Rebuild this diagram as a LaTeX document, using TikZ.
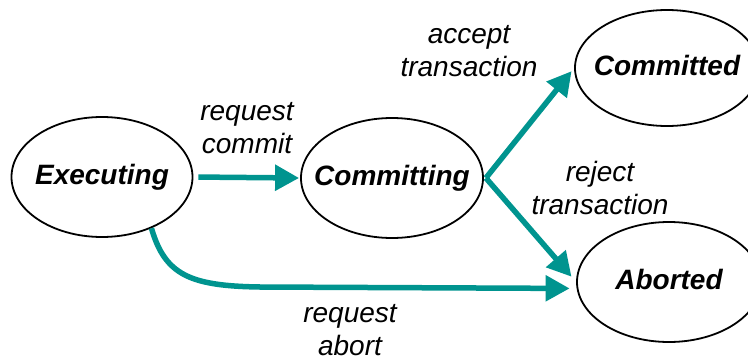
\documentclass[tikz,border=0pt]{standalone}
\usepackage{fontspec}
\setmainfont{Liberation Sans}
\usetikzlibrary{shapes.geometric,arrows.meta}
\definecolor{flowteal}{RGB}{0,148,143}
\tikzset{
  % the state name sits in a zero-width box so the ellipse keeps its given size
  state/.style={ellipse, draw=black, line width=1.8pt, inner sep=0pt,
    font=\fontsize{28}{33}\selectfont\bfseries\itshape,
    text height=20pt, text depth=6pt,
    execute at begin node={\hbox to 0pt\bgroup\hss},
    execute at end node={\hss\egroup}},
  trans/.style={draw=flowteal, line width=5.5pt,
    -{Triangle[length=24pt,width=25pt]}},
  lbl/.style={align=center, inner sep=0pt,
    font=\fontsize{28}{33}\selectfont\itshape}
}
\begin{document}
\begin{tikzpicture}[x=1pt,y=-1pt]
\useasboundingbox (0,0) rectangle (748,362);

% states
\node[state, minimum width=181pt, minimum height=120pt] (exec) at (102,177) {Executing};
\node[state, minimum width=182pt, minimum height=120pt] (cmting) at (392,178) {Committing};
\node[state, minimum width=184pt, minimum height=116pt] (cmted) at (667,68) {Committed};
\node[state, minimum width=184pt, minimum height=120pt] (abrt) at (669,282) {Aborted};

% fork point just right of Committing
\coordinate (fork) at ([xshift=2pt]cmting.east);

% transitions
\draw[trans, shorten <=5pt, shorten >=1pt] (exec.east) -- (cmting.west);
\draw[trans, shorten >=4pt] (fork) -- (cmted.west);
\draw[trans, shorten >=7pt] (fork) -- (abrt.west);
\draw[trans, shorten >=7pt] (exec.-46) .. controls (165,275) and (190,286) .. (260,287) -- (abrt.184);

% transition labels
\node[lbl] (lcommit) at (247,128) {request\\commit};
\node[lbl] (laccept) at (469,51) {accept\\transaction};
\node[lbl] (lreject) at (600,188) {reject\\transaction};
\node[lbl] (labort) at (350,330) {request\\abort};
\end{tikzpicture}
\end{document}
